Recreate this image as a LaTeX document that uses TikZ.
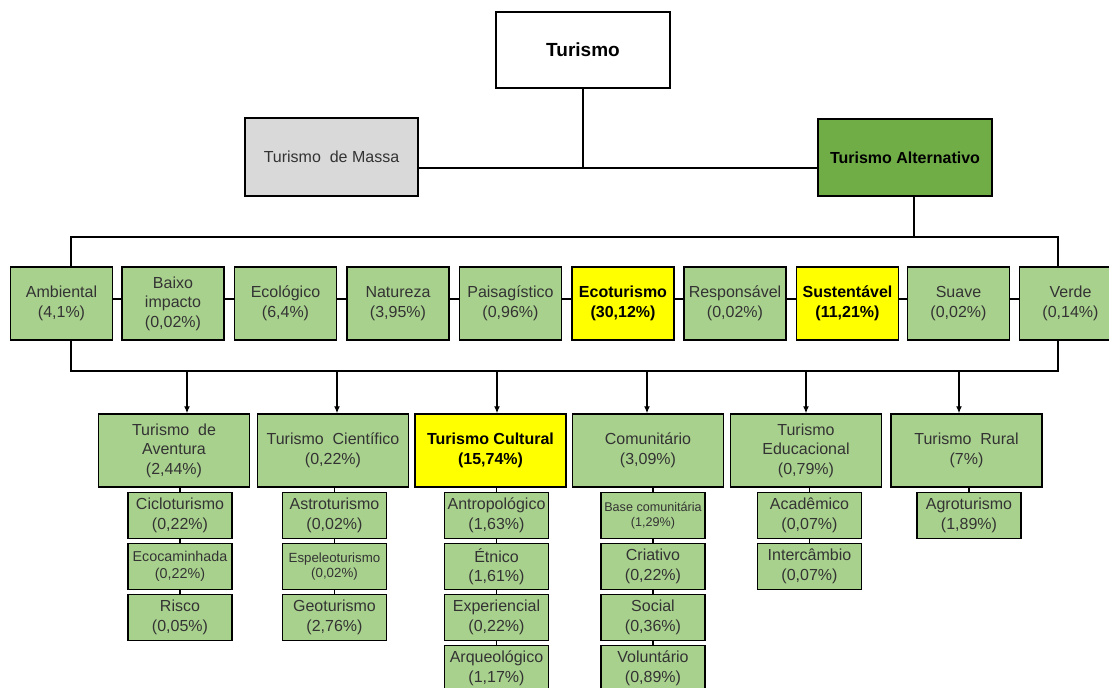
\documentclass[tikz,border=0pt]{standalone}
\usepackage{fontspec}
\setmainfont{Liberation Sans}
\usetikzlibrary{arrows.meta}

\definecolor{verdeclaro}{HTML}{A9D18E}
\definecolor{verdeescuro}{HTML}{70AD47}
\definecolor{amarelo}{HTML}{FFFF00}
\definecolor{cinza}{HTML}{D9D9D9}

\newcommand{\fonte}{\fontsize{16}{19.5}\selectfont}
\newcommand{\fontemenor}{\fontsize{14.3}{17}\selectfont}
\newcommand{\fontemini}{\fontsize{13.3}{15.5}\selectfont}
\newcommand{\fontemicro}{\fontsize{12.6}{15}\selectfont}

\tikzset{
  caixa/.style={draw=black, line width=1.5pt, fill=verdeclaro, inner sep=0pt,
    align=center, text=black!80, font=\fonte,
    minimum width=102pt, minimum height=73pt},
  topo/.style={caixa, minimum width=174pt, minimum height=77pt},
  grupo/.style={caixa, minimum width=151pt},
  subcaixa/.style={caixa, minimum width=104pt, minimum height=46pt},
  destaque/.style={fill=amarelo, text=black, font=\fonte\bfseries},
  linha/.style={line width=1.2pt},
  seta/.style={linha, -{Latex[length=7pt,width=6pt]}},
}

\begin{document}
\begin{tikzpicture}[x=1pt,y=-1pt]
\useasboundingbox (0,0) rectangle (1109,688);
\clip (0,0) rectangle (1109,688);

% topo
\node[topo, fill=white, text=black, font=\fontsize{19}{22}\selectfont\bfseries, minimum height=76pt] (turismo) at (583,50) {Turismo};
\node[topo, fill=cinza, minimum width=173pt, minimum height=78pt] (massa) at (331.5,157) {Turismo\ \ de Massa};
\node[topo, fill=verdeescuro, text=black, font=\fonte\bfseries] (alternativo) at (905,157.5) {Turismo Alternativo};

\coordinate (juncao) at (583,168);
\draw[linha] (turismo.south) -- (juncao);
\draw[linha] (massa.east |- juncao) -- (alternativo.west |- juncao);

% segmentos
\node[caixa] (ambiental) at (61.5,303.5) {Ambiental\\(4,1\%)};
\node[caixa] (baixo) at (173,303.5) {Baixo\\impacto\\(0,02\%)};
\node[caixa] (ecologico) at (285.5,303.5) {Ecológico\\(6,4\%)};
\node[caixa] (natureza) at (398,303.5) {Natureza\\(3,95\%)};
\node[caixa] (paisagistico) at (510.5,303.5) {Paisagístico\\(0,96\%)};
\node[caixa, destaque] (ecoturismo) at (623,303.5) {Ecoturismo\\(30,12\%)};
\node[caixa] (responsavel) at (735,303.5) {Responsável\\(0,02\%)};
\node[caixa, destaque] (sustentavel) at (847.5,303.5) {Sustentável\\(11,21\%)};
\node[caixa] (suave) at (958.5,303.5) {Suave\\(0,02\%)};
\node[caixa] (verde) at (1070.5,303.5) {Verde\\(0,14\%)};

\draw[linha] ([yshift=4.5pt]ambiental.east) -- ([yshift=4.5pt]baixo.west);
\draw[linha] ([yshift=4.5pt]baixo.east) -- ([yshift=4.5pt]ecologico.west);
\draw[linha] ([yshift=4.5pt]ecologico.east) -- ([yshift=4.5pt]natureza.west);
\draw[linha] ([yshift=4.5pt]natureza.east) -- ([yshift=4.5pt]paisagistico.west);
\draw[linha] ([yshift=4.5pt]paisagistico.east) -- ([yshift=4.5pt]ecoturismo.west);
\draw[linha] ([yshift=4.5pt]ecoturismo.east) -- ([yshift=4.5pt]responsavel.west);
\draw[linha] ([yshift=4.5pt]responsavel.east) -- ([yshift=4.5pt]sustentavel.west);
\draw[linha] ([yshift=4.5pt]sustentavel.east) -- ([yshift=4.5pt]suave.west);
\draw[linha] ([yshift=4.5pt]suave.east) -- ([yshift=4.5pt]verde.west);

\coordinate (topoesq) at (71,237);
\coordinate (topodir) at (1058,237);
\draw[linha] (ambiental.north -| topoesq) -- (topoesq) -- (topodir) -- (verde.north -| topodir);
\draw[linha] ([xshift=9pt]alternativo.south) -- ([xshift=9pt]alternativo.south |- topoesq);

% tipos
\node[grupo] (aventura) at (174,450.5) {Turismo\ \ de\\Aventura\\(2,44\%)};
\node[grupo] (cientifico) at (333,450.5) {Turismo\ \ Científico\\(0,22\%)};
\node[grupo, destaque] (cultural) at (490.5,450.5) {Turismo Cultural\\(15,74\%)};
\node[grupo] (comunitario) at (648,450.5) {Comunitário\\(3,09\%)};
\node[grupo] (educacional) at (806,450.5) {Turismo\\Educacional\\(0,79\%)};
\node[grupo] (rural) at (966.5,450.5) {Turismo\ \ Rural\\(7\%)};

\coordinate (baseesq) at (71,371);
\coordinate (basedir) at (1058,371);
\draw[linha] (ambiental.south -| baseesq) -- (baseesq) -- (basedir) -- (verde.south -| basedir);
\draw[seta] ([xshift=13pt]aventura.north |- baseesq) -- ([xshift=13pt]aventura.north);
\draw[seta] ([xshift=4pt]cientifico.north |- baseesq) -- ([xshift=4pt]cientifico.north);
\draw[seta] ([xshift=6.5pt]cultural.north |- baseesq) -- ([xshift=6.5pt]cultural.north);
\draw[seta] ([xshift=-1pt]comunitario.north |- baseesq) -- ([xshift=-1pt]comunitario.north);
\draw[seta] (educacional.north |- baseesq) -- (educacional.north);
\draw[seta] ([xshift=-7.5pt]rural.north |- baseesq) -- ([xshift=-7.5pt]rural.north);

% subtipos
\node[subcaixa] (ciclo) at (180,515.5) {Cicloturismo\\(0,22\%)};
\node[subcaixa, font=\fontemenor] (ecocaminhada) at (180,566.5) {Ecocaminhada\\(0,22\%)};
\node[subcaixa] (risco) at (180,617.5) {Risco\\(0,05\%)};

\node[subcaixa] (astro) at (334.5,515.5) {Astroturismo\\(0,02\%)};
\node[subcaixa, font=\fontemini] (espeleo) at (334.5,566.5) {Espeleoturismo\\(0,02\%)};
\node[subcaixa] (geo) at (334.5,617.5) {Geoturismo\\(2,76\%)};

\node[subcaixa] (antropologico) at (496.5,515.5) {Antropológico\\(1,63\%)};
\node[subcaixa] (etnico) at (496.5,566.5) {Étnico\\(1,61\%)};
\node[subcaixa] (experiencial) at (496.5,617.5) {Experiencial\\(0,22\%)};
\node[subcaixa] (arqueologico) at (496.5,668.5) {Arqueológico\\(1,17\%)};

\node[subcaixa, font=\fontemicro] (basecom) at (653,515.5) {Base comunitária\\(1,29\%)};
\node[subcaixa] (criativo) at (653,566.5) {Criativo\\(0,22\%)};
\node[subcaixa] (social) at (653,617.5) {Social\\(0,36\%)};
\node[subcaixa] (voluntario) at (653,668.5) {Voluntário\\(0,89\%)};

\node[subcaixa] (academico) at (809.5,515.5) {Acadêmico\\(0,07\%)};
\node[subcaixa] (intercambio) at (809.5,566.5) {Intercâmbio\\(0,07\%)};

\node[subcaixa] (agro) at (969,515.5) {Agroturismo\\(1,89\%)};

\draw[linha] (ciclo.north) -- (ciclo.north |- aventura.south);
\draw[linha] (ecocaminhada.north) -- (ciclo.south);
\draw[linha] (risco.north) -- (ecocaminhada.south);
\draw[linha] (astro.north) -- (astro.north |- cientifico.south);
\draw[linha] (espeleo.north) -- (astro.south);
\draw[linha] (geo.north) -- (espeleo.south);
\draw[linha] (antropologico.north) -- (antropologico.north |- cultural.south);
\draw[linha] (etnico.north) -- (antropologico.south);
\draw[linha] (experiencial.north) -- (etnico.south);
\draw[linha] (arqueologico.north) -- (experiencial.south);
\draw[linha] (basecom.north) -- (basecom.north |- comunitario.south);
\draw[linha] (criativo.north) -- (basecom.south);
\draw[linha] (social.north) -- (criativo.south);
\draw[linha] (voluntario.north) -- (social.south);
\draw[linha] (academico.north) -- (academico.north |- educacional.south);
\draw[linha] (intercambio.north) -- (academico.south);
\draw[linha] (agro.north) -- (agro.north |- rural.south);

\end{tikzpicture}
\end{document}
